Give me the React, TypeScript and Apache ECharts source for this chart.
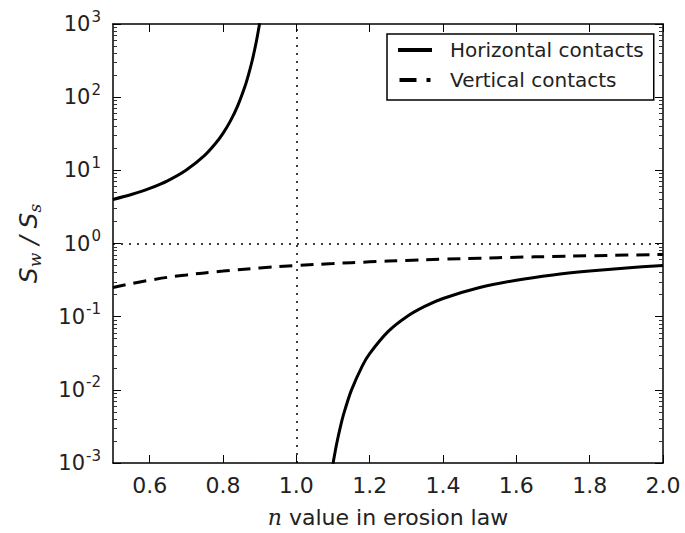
import React, { useEffect, useRef } from "react";
import * as echarts from "echarts";

// Horizontal contacts, branch n < 1
const hLeftN = [0.5, 0.55, 0.6, 0.65, 0.7, 0.75, 0.78, 0.8, 0.82, 0.84, 0.86, 0.87, 0.88, 0.89, 0.9];
const hLeftV = [4.0, 4.67, 5.66, 7.25, 10.1, 16.0, 23.4, 32.0, 47.0, 76.1, 141, 207, 322, 545, 1024];
// Horizontal contacts, branch n > 1
const hRightN = [1.1, 1.11, 1.12, 1.13, 1.15, 1.18, 1.2, 1.25, 1.3, 1.35, 1.4, 1.5, 1.6, 1.7, 1.8, 1.9, 2.0];
const hRightV = [0.00098, 0.00183, 0.0031, 0.00484, 0.00984, 0.0213, 0.0313, 0.0625, 0.0992, 0.138, 0.177, 0.25, 0.315, 0.372, 0.42, 0.463, 0.5];
// Vertical contacts
const vN = [0.5, 0.6, 0.7, 0.8, 0.9, 1.0, 1.1, 1.2, 1.3, 1.4, 1.5, 1.6, 1.7, 1.8, 1.9, 2.0];
const vV = [0.25, 0.315, 0.372, 0.42, 0.463, 0.5, 0.532, 0.561, 0.587, 0.61, 0.63, 0.648, 0.665, 0.68, 0.694, 0.707];

const xTicks = [0.6, 0.8, 1.0, 1.2, 1.4, 1.6, 1.8, 2.0];
const yDecades = [0.001, 0.01, 0.1, 1, 10, 100, 1000];
const yExps = ["-3", "-2", "-1", "0", "1", "2", "3"];

const FONT = "DejaVu Sans";

export default function App() {
  const ref = useRef<HTMLDivElement>(null);
  useEffect(() => {
    if (!ref.current) return;
    const chart = echarts.init(ref.current, null, { renderer: "svg" });
    const minors: number[] = [];
    for (let e = -3; e < 3; e++) {
      for (let m = 2; m <= 9; m++) minors.push(m * Math.pow(10, e));
    }
    const zip = (a: number[], b: number[]) => a.map((x, i) => [x, b[i]]);
    const black = "#000";
    const majorY = (pos: string, labels: boolean) => ({
      type: "log",
      logBase: 10,
      min: 0.001,
      max: 1000,
      position: pos,
      axisLine: { show: true, lineStyle: { color: black, width: 1.5 } },
      axisTick: { show: true, inside: true, length: 8, customValues: yDecades, lineStyle: { color: black, width: 1 } },
      axisLabel: labels
        ? {
            show: true,
            customValues: yDecades,
            margin: 12,
            formatter: (v: number) => {
              const i = yDecades.findIndex((d) => Math.abs(Math.log10(d) - Math.log10(v)) < 1e-6);
              return "{b|10}{s|" + (i >= 0 ? yExps[i] : "") + "}";
            },
            rich: {
              b: { fontFamily: FONT, fontSize: 21, color: "#222" },
              s: { fontFamily: FONT, fontSize: 15, color: "#222", padding: [0, 0, 15, 1] },
            },
          }
        : { show: false },
      splitLine: { show: false },
    });
    const minorY = (pos: string) => ({
      type: "log",
      logBase: 10,
      min: 0.001,
      max: 1000,
      position: pos,
      axisLine: { show: false },
      axisTick: { show: true, inside: true, length: 4, customValues: minors, lineStyle: { color: "#333", width: 1 } },
      axisLabel: { show: false },
      splitLine: { show: false },
    });
    const xAx = (pos: string, labels: boolean) => ({
      type: "value",
      min: 0.5,
      max: 2.0,
      position: pos,
      axisLine: { show: true, lineStyle: { color: black, width: 1.5 } },
      axisTick: { show: true, inside: true, length: 8, customValues: xTicks, lineStyle: { color: black, width: 1 } },
      axisLabel: labels
        ? {
            show: true,
            customValues: xTicks,
            margin: 11,
            fontFamily: FONT,
            fontSize: 22,
            color: "#222",
            formatter: (v: number) => v.toFixed(1),
          }
        : { show: false },
      splitLine: { show: false },
      name: labels ? "{i|n} value in erosion law" : "",
      nameLocation: "middle",
      nameGap: 43,
      nameTextStyle: {
        fontFamily: FONT,
        fontSize: 22,
        color: "#222",
        rich: {
          i: { fontFamily: "DejaVu Serif", fontStyle: "italic", fontSize: 22, color: "#222" },
        },
      },
    });
    chart.setOption({
      animation: false,
      backgroundColor: "#fff",
      grid: { left: 113, right: 22, top: 24, bottom: 64 },
      xAxis: [xAx("bottom", true), xAx("top", false)],
      yAxis: [
        {
          ...majorY("left", true),
          name: "{i|S}{sub|w}{i| / S}{sub|s}",
          nameLocation: "middle",
          nameRotate: 90,
          nameGap: 70,
          nameTextStyle: {
            color: "#222",
            rich: {
              i: { fontFamily: "DejaVu Sans", fontStyle: "italic", fontSize: 25, color: "#222" },
              sub: { fontFamily: "DejaVu Serif", fontStyle: "italic", fontSize: 17, color: "#222", padding: [13, 0, 0, 0] },
            },
          },
        },
        minorY("left"),
        majorY("right", false),
        minorY("right"),
      ],
      legend: {
        left: 387,
        top: 34,
        orient: "vertical",
        borderColor: black,
        borderWidth: 1.5,
        borderRadius: 0,
        padding: [5, 10, 9, 11],
        itemGap: 8,
        itemWidth: 34,
        itemHeight: 4,
        textStyle: { fontFamily: FONT, fontSize: 20, lineHeight: 22, color: "#222", padding: [0, 0, 0, 13] },
        data: [
          { name: "Horizontal contacts", icon: "path://M0,0 L34,0 L34,4 L0,4 Z" },
          { name: "Vertical contacts", icon: "path://M0,0 L17,0 L17,4 L0,4 Z M27,0 L31,0 L31,4 L27,4 Z" },
        ],
      },
      series: [
        {
          name: "Horizontal contacts",
          type: "line",
          data: zip(hLeftN, hLeftV),
          showSymbol: false,
          smooth: 0.3,
          lineStyle: { color: black, width: 3 },
          itemStyle: { color: black },
          markLine: {
            silent: true,
            symbol: "none",
            label: { show: false },
            lineStyle: { color: black, width: 1.5, type: [2, 6] },
            data: [{ xAxis: 1.0 }, { yAxis: 1 }],
          },
        },
        {
          name: "Horizontal contacts",
          type: "line",
          data: zip(hRightN, hRightV),
          showSymbol: false,
          smooth: 0.3,
          lineStyle: { color: black, width: 3 },
          itemStyle: { color: black },
        },
        {
          name: "Vertical contacts",
          type: "line",
          data: zip(vN, vV),
          showSymbol: false,
          smooth: true,
          lineStyle: { color: black, width: 3, type: [13, 8] },
          itemStyle: { color: black },
        },
      ],
    });
    return () => chart.dispose();
  }, []);
  return <div ref={ref} style={{ position: "fixed", left: 0, top: 0, width: 685, height: 533 }} />;
}
